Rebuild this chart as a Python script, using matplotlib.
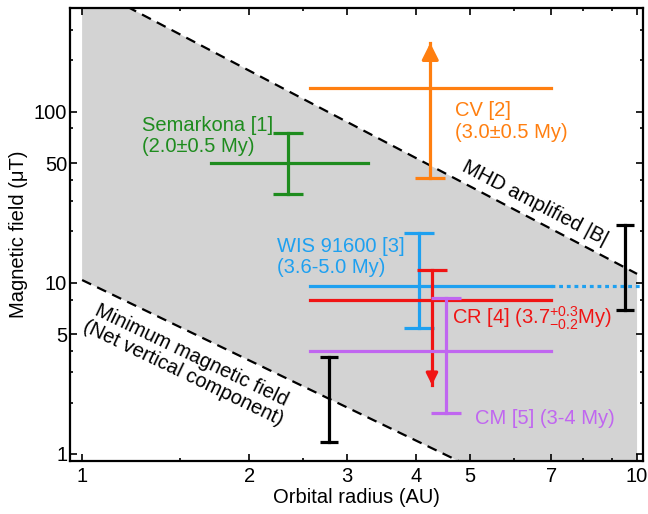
import numpy as np
import matplotlib
matplotlib.use("Agg")
import matplotlib.pyplot as plt
from matplotlib.ticker import FixedLocator, NullFormatter

plt.rcParams['font.family'] = ['Liberation Sans', 'DejaVu Sans']
plt.rcParams['mathtext.fontset'] = 'custom'
plt.rcParams['mathtext.rm'] = 'Liberation Sans'
plt.rcParams['mathtext.it'] = 'Liberation Sans:italic'

# ===== DATA =====
names = ["Semarkona", "CV", "WIS 91600", "CR", "CM"]
colors = ["#1e8c1e", "#ff7f10", "#1ea0f0", "#f01414", "#c066f0"]
r_lo = [1.71, 2.57, 2.57, 2.57, 2.57]       # horizontal bar, left end (AU)
r_hi = [3.27, 7.0, 7.0, 7.0, 7.0]           # horizontal bar, right end (AU)
r_mid = [2.35, 4.24, 4.05, 4.27, 4.53]      # vertical bar position (AU)
B_mid = [50, 138, 9.6, 8.0, 4.0]            # field value (uT)
B_lo = [33, 41, 5.45, 2.53, 1.74]           # lower end of vertical bar
B_hi = [75, 253, 19.6, 11.9, 8.2]           # upper end of vertical bar
cap_lo = [True, True, True, False, True]    # False -> arrow instead of cap
cap_hi = [True, False, True, True, True]
labels = ["Semarkona [1]\n(2.0±0.5 My)",
          "CV [2]\n(3.0±0.5 My)",
          "WIS 91600 [3]\n(3.6-5.0 My)",
          r"CR [4] (3.7$^{\mathregular{+0.3}}_{\mathregular{-0.2}}$My)",
          "CM [5] (3-4 My)"]
label_r = [1.283, 4.70, 2.245, 4.64, 5.11]
label_B = [72.0, 88.0, 14.2, 6.24, 1.62]

# WIS 91600 dotted extension
wis_ext = [7.0, 10.25]

# boundary power laws B = B0 * (r / r0) ** k
upper_B10, upper_k = 11.3, -1.7   # MHD amplified |B|, value at r = 10 AU
lower_B1, lower_k = 10.4, -1.56   # minimum field, value at r = 1 AU

# black error bars on the boundaries
blk_r = [2.79, 9.5]
blk_lo = [1.17, 6.95]
blk_hi = [3.69, 21.8]

xticks = [1, 2, 3, 4, 5, 7, 10]
yticks = [1, 5, 10, 50, 100]

FS = 14.5

# ===== FIGURE =====
fig = plt.figure(figsize=(6.48, 5.14), dpi=100)
ax = fig.add_axes([70/648, 1 - 461/514, (643 - 70)/648, (461 - 8)/514])
ax.set_xscale('log')
ax.set_yscale('log')
ax.set_xlim(0.951, 10.25)
ax.set_ylim(0.91, 405)

r = np.geomspace(1, 10, 300)
upper = upper_B10 * (r / 10) ** upper_k
lower = lower_B1 * r ** lower_k
ax.fill_between(r, lower, upper, color='#d3d3d3', lw=0, zorder=0)
ax.plot(r, upper, color='k', lw=1.6, linestyle=(0, (4.5, 3)), zorder=1)
ax.plot(r, lower, color='k', lw=1.6, linestyle=(0, (4.5, 3)), zorder=1)

lw = 2.3
for i in range(len(names)):
    c = colors[i]
    ax.plot([r_lo[i], r_hi[i]], [B_mid[i], B_mid[i]], color=c, lw=lw, zorder=3)
    ax.plot([r_mid[i], r_mid[i]], [B_lo[i], B_hi[i]], color=c, lw=lw, zorder=3)
    if cap_lo[i]:
        ax.plot([r_mid[i]], [B_lo[i]], marker='_', ms=22, mew=lw, color=c, zorder=3)
    if cap_hi[i]:
        ax.plot([r_mid[i]], [B_hi[i]], marker='_', ms=22, mew=lw, color=c, zorder=3)
    ax.text(label_r[i], label_B[i], labels[i], color=c, fontsize=FS,
            ha='left', va='center', linespacing=1.15, zorder=4)

# arrows: CV lower limit (up), CR upper limit (down)
ax.annotate('', xy=(r_mid[1], B_hi[1]), xytext=(r_mid[1], B_hi[1] * 0.8),
            arrowprops=dict(arrowstyle='-|>', color=colors[1], lw=lw,
                            mutation_scale=25, shrinkA=0, shrinkB=0), zorder=3)
ax.annotate('', xy=(r_mid[3], B_lo[3]), xytext=(r_mid[3], B_lo[3] * 1.2),
            arrowprops=dict(arrowstyle='-|>', color=colors[3], lw=lw,
                            mutation_scale=17, shrinkA=0, shrinkB=0), zorder=3)

# dotted extension of WIS 91600
ax.plot(wis_ext, [B_mid[2], B_mid[2]], color=colors[2], lw=lw,
        linestyle=(0, (1.2, 1.2)), zorder=3, clip_on=False)

for i in range(len(blk_r)):
    ax.plot([blk_r[i], blk_r[i]], [blk_lo[i], blk_hi[i]], color='k', lw=lw, zorder=3)
    ax.plot([blk_r[i]] * 2, [blk_lo[i], blk_hi[i]], ls='none', marker='_',
            ms=13, mew=lw, color='k', zorder=3)

# rotated labels along boundaries
def angle_of(x0, y0, x1, y1):
    p0 = ax.transData.transform((x0, y0))
    p1 = ax.transData.transform((x1, y1))
    return np.degrees(np.arctan2(p1[1] - p0[1], p1[0] - p0[0]))

ang_up = angle_of(2, upper_B10 * 0.2 ** upper_k, 8, upper_B10 * 0.8 ** upper_k)
ang_lo = angle_of(1, lower_B1, 4, lower_B1 * 4 ** lower_k)
ax.text(6.55, 29.4, "MHD amplified |B|", rotation=ang_up, rotation_mode='anchor',
        ha='center', va='center', fontsize=FS, zorder=4)
ax.text(1.546, 3.36, "Minimum magnetic field\n(Net vertical component)",
        rotation=ang_lo, rotation_mode='anchor', ha='center', va='center',
        fontsize=FS, linespacing=1.05, zorder=4)

# ===== AXES STYLE =====
ax.xaxis.set_major_locator(FixedLocator(xticks))
ax.set_xticklabels([str(t) for t in xticks])
ax.xaxis.set_minor_locator(FixedLocator([1.5, 2.5, 6, 8, 9]))
ax.xaxis.set_minor_formatter(NullFormatter())
ax.yaxis.set_major_locator(FixedLocator(yticks))
ax.set_yticklabels([str(t) for t in yticks])
ax.yaxis.set_minor_locator(FixedLocator([2, 3, 4, 8, 20, 30, 40, 80, 200, 300]))
ax.yaxis.set_minor_formatter(NullFormatter())

ax.tick_params(which='both', direction='in', top=True, right=True, width=1.2)
ax.tick_params(which='major', length=5, labelsize=FS)
ax.tick_params(which='minor', length=2.5)
ax.tick_params(axis='y', pad=2)
ax.tick_params(axis='x', pad=4)
for s in ax.spines.values():
    s.set_linewidth(1.6)

ax.set_xlabel("Orbital radius (AU)", fontsize=FS, labelpad=2)
ax.set_ylabel("Magnetic field (μT)", fontsize=FS, labelpad=4)

fig.savefig("out.png", dpi=100)
